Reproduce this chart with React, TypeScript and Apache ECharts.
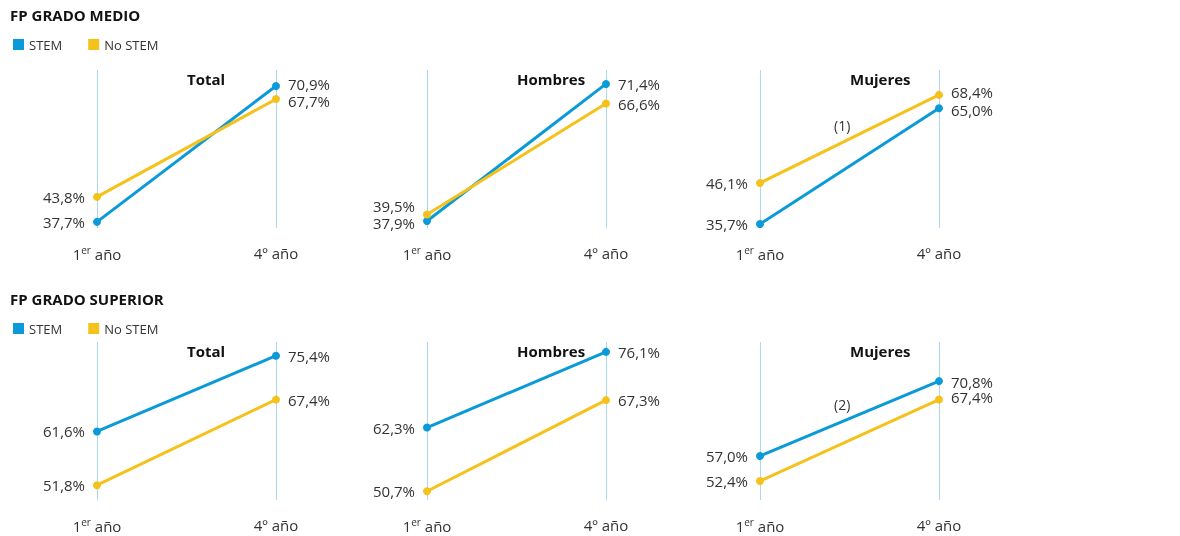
import { useEffect, useRef } from 'react';
import * as echarts from 'echarts';

const categories = ['1er año', '4º año'];
const panelTitles = ['Total', 'Hombres', 'Mujeres'];
const medioStem = [[37.7, 70.9], [37.9, 71.4], [35.7, 65.0]];
const medioNoStem = [[43.8, 67.7], [39.5, 66.6], [46.1, 68.4]];
const superiorStem = [[61.6, 75.4], [62.3, 76.1], [57.0, 70.8]];
const superiorNoStem = [[51.8, 67.4], [50.7, 67.3], [52.4, 67.4]];
const medioRanges = [[36.2, 74.8], [36.2, 74.8], [34.7, 74.7]];
const superiorRanges = [[49.1, 77.9], [49.1, 77.9], [48.9, 78.0]];

const BLUE = '#0b9ad8';
const YELLOW = '#f5c11b';
const FONT = '"Open Sans", sans-serif';
const lefts = [97, 427, 760];

const App = () => {
  const chartDom = useRef<HTMLDivElement | null>(null);

  useEffect(() => {
    if (!chartDom.current) return;
    const myChart = echarts.init(chartDom.current, null, { renderer: 'svg' });

    const grids: any[] = [];
    const xAxes: any[] = [];
    const yAxes: any[] = [];
    const series: any[] = [];

    const rows = [
      { top: 70, stem: medioStem, noStem: medioNoStem, ranges: medioRanges },
      { top: 342, stem: superiorStem, noStem: superiorNoStem, ranges: superiorRanges },
    ];

    const fmt = (p: any) => p.value.toFixed(1).replace('.', ',') + '%';

    rows.forEach((row, r) => {
      lefts.forEach((left, c) => {
        const i = r * 3 + c;
        grids.push({ left, top: row.top, width: 179, height: 158 });
        xAxes.push({
          type: 'category', gridIndex: i, data: categories, boundaryGap: false,
          axisLine: { show: false }, axisTick: { show: false },
          splitLine: { show: true, lineStyle: { color: '#a9d8f2', width: 1 } },
          axisLabel: {
            margin: 17, color: '#333', fontSize: 15, fontFamily: FONT,
            formatter: (v: string) => v === '1er año' ? '1{sup|er} año' : v,
            rich: { sup: { fontSize: 10, verticalAlign: 'top', padding: [0, 0, 8, 0], color: '#333', fontFamily: FONT } },
          },
        });
        yAxes.push({
          type: 'value', gridIndex: i, min: row.ranges[c][0], max: row.ranges[c][1],
          show: false, splitLine: { show: false },
        });
        const mk = (name: string, color: string, data: number[], nudge: number[]) => ({
          name, type: 'line', xAxisIndex: i, yAxisIndex: i, data: data.map((v, k) => ({
            value: v,
            label: {
              show: true, position: k === 0 ? 'left' : 'right', distance: 8,
              offset: [0, nudge[k]], formatter: fmt, color: '#333', fontSize: 15, fontFamily: FONT,
            },
          })),
          symbol: 'circle', symbolSize: 8, lineStyle: { color, width: 3 }, itemStyle: { color },
        });
        const stemN = [0, 0];
        const noN = [0, 0];
        if (r === 0 && c === 0) { stemN[1] = -2; noN[1] = 2; }
        if (r === 0 && c === 1) { noN[0] = -8; stemN[0] = 2; }
        if (r === 0 && c === 2) { noN[1] = -3; stemN[1] = 2; }
        if (r === 1 && c === 2) { noN[1] = -3; stemN[1] = 1; }
        series.push(mk('STEM', BLUE, row.stem[c], stemN));
        series.push(mk('No STEM', YELLOW, row.noStem[c], noN));
      });
    });

    const titleTexts: any[] = [];
    rows.forEach((row) => {
      lefts.forEach((left, c) => {
        titleTexts.push({
          type: 'text', left: left + 90, top: row.top + 1,
          style: { text: panelTitles[c], font: `bold 15px ${FONT}`, fill: '#111', textAlign: 'center' },
        });
      });
    });

    const legendBase = {
      data: ['STEM', 'No STEM'], icon: 'rect', itemWidth: 11, itemHeight: 11, itemGap: 26,
      textStyle: { color: '#333', fontSize: 13, fontFamily: FONT }, selectedMode: false,
    };

    const option = {
      animation: false,
      legend: [
        { ...legendBase, left: 8, top: 33 },
        { ...legendBase, left: 8, top: 317 },
      ],
      grid: grids,
      xAxis: xAxes,
      yAxis: yAxes,
      series,
      graphic: [
        { type: 'text', left: 10, top: 7, style: { text: 'FP GRADO MEDIO', font: `bold 15px ${FONT}`, fill: '#111' } },
        { type: 'text', left: 10, top: 291, style: { text: 'FP GRADO SUPERIOR', font: `bold 15px ${FONT}`, fill: '#111' } },
        { type: 'text', left: 834, top: 118, style: { text: '(1)', font: `14px ${FONT}`, fill: '#333' } },
        { type: 'text', left: 834, top: 397, style: { text: '(2)', font: `14px ${FONT}`, fill: '#333' } },
        ...titleTexts,
      ],
    };

    myChart.setOption(option);
    return () => myChart.dispose();
  }, []);

  return (
    <div
      ref={chartDom}
      style={{ position: 'fixed', left: 0, top: 0, width: 1180, height: 536, overflow: 'hidden' }}
    />
  );
};

export default App;
